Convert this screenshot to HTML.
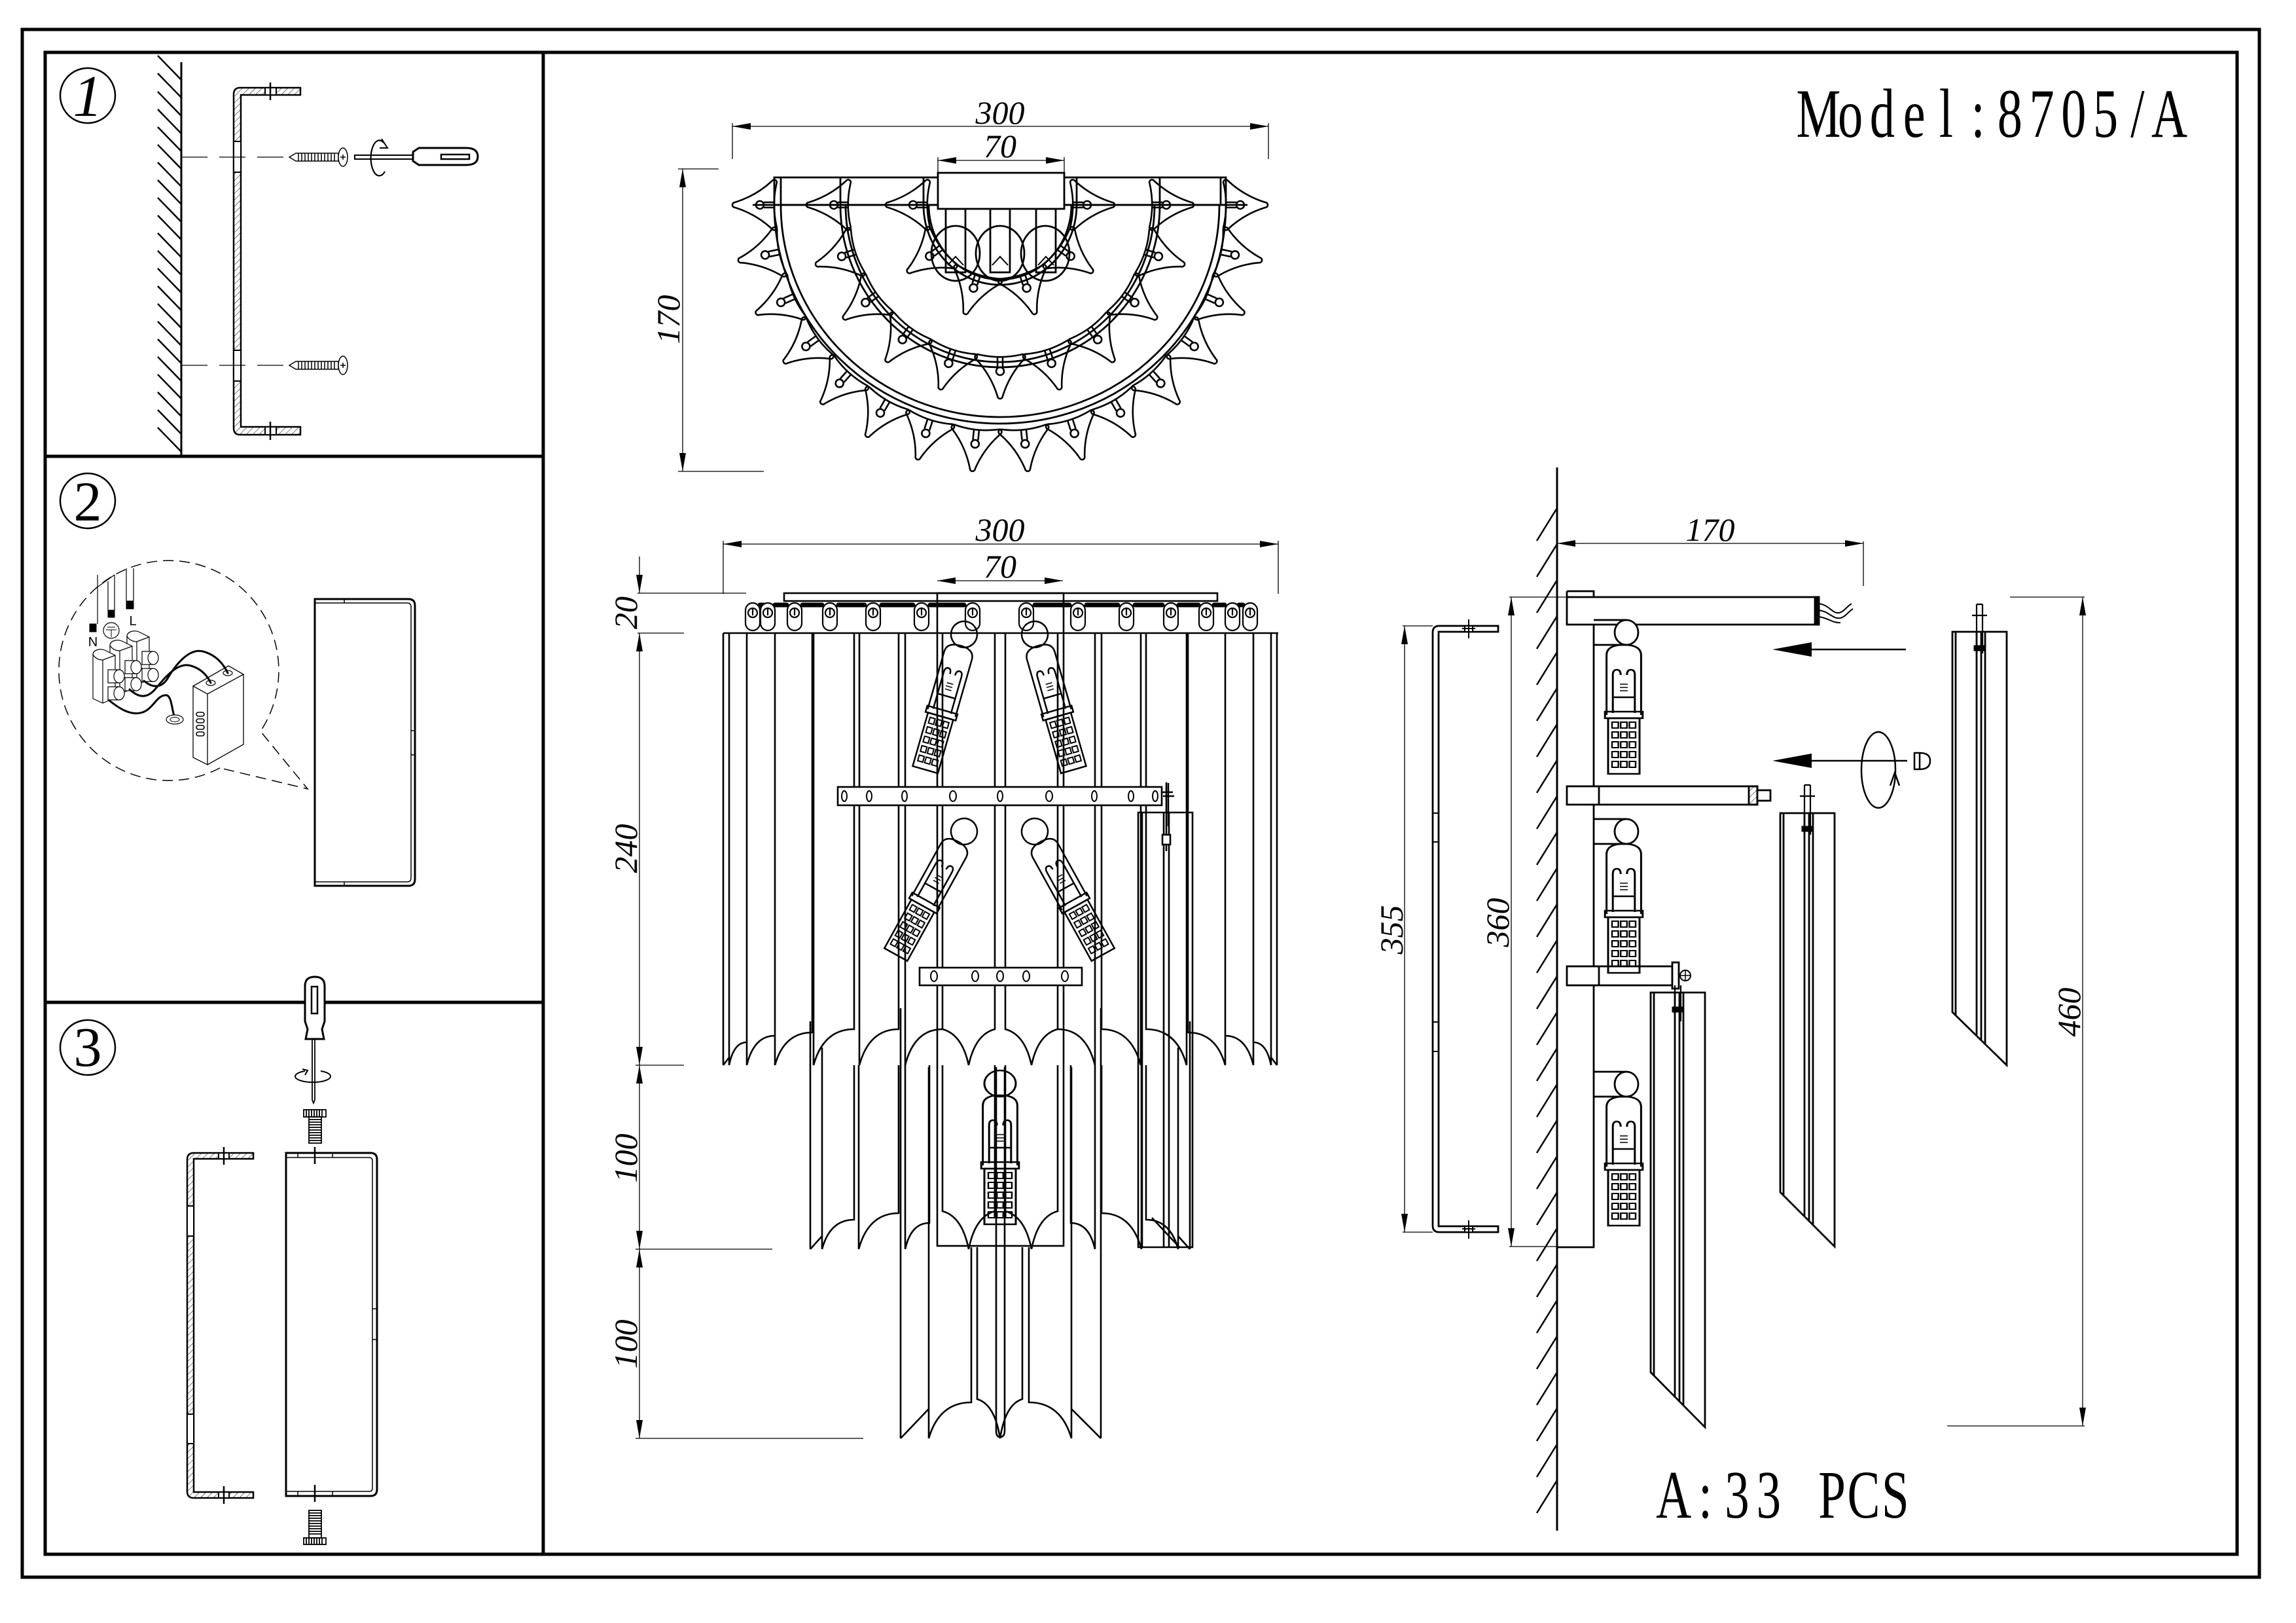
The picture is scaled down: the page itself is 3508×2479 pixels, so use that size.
<!DOCTYPE html>
<html><head><meta charset="utf-8"><style>
html,body{margin:0;padding:0;background:#fff}
svg{display:block}
.d{font-family:"Liberation Serif",serif;font-size:50px;font-style:italic}
.m{font-family:"Liberation Serif",serif}
</style></head><body>
<svg xmlns="http://www.w3.org/2000/svg" width="3508" height="2479" viewBox="0 0 3508 2479">
<defs>
<pattern id="hp" width="7" height="7" patternUnits="userSpaceOnUse" patternTransform="rotate(45)"><line x1="0" y1="0" x2="0" y2="7" stroke="#000" stroke-width="1"/></pattern>
<g id="cr" fill="none" stroke="#000" stroke-width="2.6" stroke-linejoin="round">
<path d="M 40,4 Q 8,13.9 -16.54,36.64 A 4 4 0 0 1 -23.46,32.64 Q -16,0 -23.46,-32.64 A 4 4 0 0 1 -16.54,-36.64 Q 8,-13.9 40,-4 A 4 4 0 0 1 40,4 Z"/>
<circle cx="2" cy="0" r="6"/><path d="M -4,-4 L -20,-4 M -4,4 L -20,4"/>
</g>
<g id="lpb" fill="none" stroke="#000" stroke-width="2.5">
<path d="M -22,125 L -22,34 Q -22,18 0,18 Q 22,18 22,34 L 22,125"/>
<path d="M -14,122 L -14,64 Q -14,56 -9,56 Q -4,56 -4,64 M 4,64 Q 4,56 9,56 Q 14,56 14,64 L 14,122 M -14,98 H 14"/>
<path d="M -5,78 H 5 M -5,83 H 5 M -5,88 H 5" stroke-width="1.5"/>
<rect x="-24" y="120" width="48" height="10"/>
<rect x="-20" y="130" width="40" height="85"/>
<g stroke-width="2">
<rect x="-15" y="136" width="8" height="9"/><rect x="-4" y="136" width="8" height="9"/><rect x="7" y="136" width="8" height="9"/>
<rect x="-15" y="151" width="8" height="9"/><rect x="-4" y="151" width="8" height="9"/><rect x="7" y="151" width="8" height="9"/>
<rect x="-15" y="166" width="8" height="9"/><rect x="-4" y="166" width="8" height="9"/><rect x="7" y="166" width="8" height="9"/>
<rect x="-15" y="181" width="8" height="9"/><rect x="-4" y="181" width="8" height="9"/><rect x="7" y="181" width="8" height="9"/>
<rect x="-15" y="196" width="8" height="9"/><rect x="-4" y="196" width="8" height="9"/><rect x="7" y="196" width="8" height="9"/>
</g>
</g>
<g id="lp"><circle cx="0" cy="0" r="20" fill="none" stroke="#000" stroke-width="2.5"/><use href="#lpb"/></g>
<g id="hk" fill="#fff" stroke="#000" stroke-width="2.2">
<rect x="-11" y="921" width="22" height="42" rx="11"/><circle cx="0" cy="936" r="7"/><path d="M 0,929 V 940" fill="none"/>
</g>
<g id="cyl" fill="#fff" stroke="#000" stroke-width="1.2">
<path d="M 165,1023 L 182,1023 A 8 10 0 0 1 182,1043 L 165,1043 Z"/><ellipse cx="182" cy="1033" rx="8" ry="10"/>
</g>
<g id="blk" fill="#fff" stroke="#000" stroke-width="1.2">
<path d="M 142,1000 C 142,993 152,990 160,993 L 176,1001 L 176,1066 L 157,1074 L 142,1067 Z"/>
<path d="M 157,1008 L 157,1074 M 142,1000 C 146,1006 152,1008 157,1008 L 176,1001" fill="none"/>
<use href="#cyl"/><use href="#cyl" transform="translate(0,26)"/>
</g>
</defs>

<!-- frames -->
<g fill="none" stroke="#000" stroke-width="5">
<rect x="34" y="45" width="3418" height="2364"/>
<rect x="69" y="80" width="3349" height="2294"/>
<path d="M 830,80 V 2374 M 69,697 H 830 M 69,1531 H 830"/>
</g>

<!-- circled numbers -->
<g fill="none" stroke="#000" stroke-width="2.5">
<circle cx="134" cy="146" r="42"/><circle cx="134" cy="765" r="42"/><circle cx="134" cy="1600" r="42"/>
</g>
<text x="134" y="177" class="m" font-size="90" font-style="italic" text-anchor="middle">1</text>
<text x="134" y="795" class="m" font-size="86" text-anchor="middle">2</text>
<text x="134" y="1628" class="m" font-size="86" text-anchor="middle">3</text>

<!-- PANEL 1 -->
<g stroke="#000" fill="none">
<path d="M 277,95 V 697" stroke-width="3"/>
<path stroke-width="2.5" d="M241,85L277,122M241,112L277,149M241,140L277,177M241,167L277,204M241,194L277,231M241,221L277,258M241,248L277,285M241,275L277,312M241,302L277,339M241,329L277,366M241,356L277,393M241,383L277,420M241,410L277,447M241,437L277,474M241,464L277,501M241,491L277,528M241,518L277,555M241,545L277,582M241,572L277,609M241,599L277,636M241,626L277,663M241,653L277,690"/>
<path d="M 459,134 L 367,134 Q 357,134 357,144 L 357,654 Q 357,664 367,664 L 459,664 L 459,652 L 368,652 L 368,145 L 459,145 Z" fill="url(#hp)" stroke-width="2.5"/>
<rect x="357" y="216" width="11" height="47" fill="#fff" stroke-width="2"/>
<rect x="357" y="535" width="11" height="47" fill="#fff" stroke-width="2"/>
<rect x="405" y="134" width="17" height="11" fill="#fff" stroke-width="2"/><path d="M 413,126 V 153" stroke-width="2.5"/>
<rect x="405" y="652" width="17" height="12" fill="#fff" stroke-width="2"/><path d="M 413,644 V 672" stroke-width="2.5"/>
<path d="M 277,240 H 442 M 277,558 H 442" stroke-width="1.2" stroke-dasharray="40 18"/>
<g stroke-width="1.5">
<path d="M 442,240 L 452,234 L 517,234 L 517,246 L 452,246 Z"/>
<path d="M456,234V246M461,234V246M466,234V246M471,234V246M476,234V246M481,234V246M486,234V246M491,234V246M496,234V246M501,234V246M506,234V246M511,234V246"/>
<ellipse cx="524" cy="240" rx="7" ry="14" fill="#fff"/><path d="M 520,240 H 528 M 524,236 V 244"/>
<path d="M 442,558 L 452,552 L 517,552 L 517,564 L 452,564 Z"/>
<path d="M456,552V564M461,552V564M466,552V564M471,552V564M476,552V564M481,552V564M486,552V564M491,552V564M496,552V564M501,552V564M506,552V564M511,552V564"/>
<ellipse cx="524" cy="558" rx="7" ry="14" fill="#fff"/><path d="M 520,558 H 528 M 524,554 V 562"/>
</g>
<rect x="542" y="237" width="92" height="6" stroke-width="2"/>
<path d="M 631,232 L 640,226 L 712,226 Q 730,226 730,239 Q 730,252 712,252 L 640,252 L 631,246 Z" fill="#fff" stroke-width="3"/>
<rect x="674" y="236" width="43" height="7" stroke-width="2.5"/>
<path d="M 586,218 A 13 27 0 1 0 588,262" stroke-width="2.2"/>
<path d="M 583,212 L 592,226 L 580,226" stroke-width="2"/>
</g>

<!-- PANEL 2 -->
<g stroke="#000" fill="none">
<path d="M 336,1173 A 168 168 0 1 1 398,1117 L 470,1205 L 336,1173" stroke-width="1.5" stroke-dasharray="16 9"/>
<path d="M 149,878 V 953 M 147,898 L 175,878" stroke-width="1.2"/>
<rect x="137" y="953" width="10" height="12" fill="#000"/>
<path d="M 165,888 V 932 M 175,878 V 932" stroke-width="1.2"/>
<rect x="165" y="932" width="10" height="11" fill="#000"/>
<path d="M 193,868 V 918 M 204,868 V 918" stroke-width="1.2"/>
<rect x="193" y="918" width="11" height="12" fill="#000"/>
<circle cx="170" cy="963" r="12" stroke-width="1.2"/>
<path d="M 164,958 H 176 M 162,962 H 178 M 170,962 V 973" stroke-width="1"/>
<g transform="translate(52,-28)"><use href="#blk"/></g>
<g transform="translate(26,-14)"><use href="#blk"/></g>
<use href="#blk"/>
<path d="M 295,1048 L 349,1017 L 372,1030 L 317,1060 Z M 295,1048 L 295,1157 L 317,1168 L 317,1060 M 317,1168 L 372,1137 L 372,1030" fill="#fff" stroke-width="1.3"/>
<ellipse cx="322" cy="1043" rx="7" ry="4" stroke-width="1.2"/><ellipse cx="348" cy="1028" rx="7" ry="4" stroke-width="1.2"/>
<g stroke-width="1.6"><rect x="300" y="1088" width="12" height="6" rx="3"/><rect x="300" y="1098" width="12" height="6" rx="3"/><rect x="300" y="1108" width="12" height="6" rx="3"/><rect x="300" y="1118" width="12" height="6" rx="3"/></g>
<g stroke-width="3" stroke-linecap="round">
<path d="M 220,1040 C 232,1050 245,1052 255,1038 C 270,1012 290,990 310,995 C 330,1000 342,1015 348,1028"/>
<path d="M 198,1053 C 210,1064 222,1068 235,1055 C 250,1038 270,1010 292,1017 C 310,1022 318,1035 322,1043"/>
<path d="M 167,1070 C 182,1082 200,1094 218,1088 C 235,1082 240,1060 255,1062 C 262,1064 263,1085 266,1093"/>
</g>
<ellipse cx="267" cy="1099" rx="13" ry="7" stroke-width="1.2" fill="#fff"/><ellipse cx="267" cy="1099" rx="7" ry="3.5" stroke-width="1"/>
<path d="M 481,915 L 624,915 Q 634,915 634,925 L 634,1343 Q 634,1353 624,1353 L 481,1353 Z" stroke-width="3"/>
<path d="M 481,921 L 622,921 Q 628,921 628,927 L 628,1341 Q 628,1347 622,1347 L 481,1347 M 526,915 V 921 M 526,1347 V 1353 M 628,1116 H 634 M 628,1153 H 634" stroke-width="1.5"/>
</g>
<text x="142" y="987" font-size="20" text-anchor="middle" font-family="Liberation Sans, sans-serif">N</text>
<text x="203" y="955" font-size="20" text-anchor="middle" font-family="Liberation Sans, sans-serif">L</text>

<!-- PANEL 3 -->
<g stroke="#000" fill="none">
<path d="M 387,1761 L 296,1761 Q 286,1761 286,1771 L 286,2278 Q 286,2288 296,2288 L 387,2288 L 387,2279 L 296,2279 L 296,1770 L 387,1770 Z" fill="url(#hp)" stroke-width="2.5"/>
<rect x="286" y="1842" width="10" height="46" fill="#fff" stroke-width="2"/>
<rect x="286" y="2160" width="10" height="45" fill="#fff" stroke-width="2"/>
<rect x="334" y="1761" width="16" height="9" fill="#fff" stroke-width="2"/><path d="M 342,1752 V 1779" stroke-width="2.5"/>
<rect x="334" y="2279" width="16" height="9" fill="#fff" stroke-width="2"/><path d="M 342,2270 V 2297" stroke-width="2.5"/>
<path d="M 437,1761 L 566,1761 Q 576,1761 576,1771 L 576,2275 Q 576,2285 566,2285 L 437,2285 Z" stroke-width="3"/>
<path d="M 437,1768 L 564,1768 Q 569,1768 569,1773 L 569,2273 Q 569,2278 564,2278 L 437,2278 M 455,1761 V 1768 M 508,1761 V 1768 M 455,2278 V 2285 M 508,2278 V 2285 M 569,1999 H 576 M 569,2046 H 576" stroke-width="1.5"/>
<path d="M 481,1752 V 1778 M 481,2268 V 2294" stroke-width="2.5"/>
<g stroke-width="1.8">
<rect x="464" y="1695" width="34" height="11"/><path d="M468,1695V1706M472,1695V1706M476,1695V1706M480,1695V1706M484,1695V1706M488,1695V1706M492,1695V1706"/>
<rect x="472" y="1706" width="19" height="40"/><path d="M472,1710H491M472,1714H491M472,1718H491M472,1722H491M472,1726H491M472,1730H491M472,1734H491M472,1738H491M472,1742H491"/>
<rect x="472" y="2307" width="19" height="42"/><path d="M472,2311H491M472,2315H491M472,2319H491M472,2323H491M472,2327H491M472,2331H491M472,2335H491M472,2339H491M472,2343H491"/>
<rect x="464" y="2349" width="34" height="10"/><path d="M468,2349V2359M472,2349V2359M476,2349V2359M480,2349V2359M484,2349V2359M488,2349V2359M492,2349V2359"/>
</g>
<path d="M 467,1587 L 470,1572 L 466,1560 L 466,1506 Q 466,1492 481,1492 Q 496,1492 496,1506 L 496,1560 L 492,1572 L 495,1587 Z" fill="#fff" stroke-width="3"/>
<rect x="476" y="1507" width="9" height="41" stroke-width="2.5"/>
<path d="M 477,1587 V 1680 L 479,1685 L 481,1680 V 1587" stroke-width="1.8"/>
<path d="M 466,1636 A 27 9 0 1 0 490,1636" stroke-width="2"/>
<path d="M 462,1633 L 470,1635 L 466,1642" stroke-width="2"/>
</g>

<!-- TOP VIEW -->
<g stroke="#000" fill="none">
<g stroke-width="1.3">
<path d="M 1119,193 H 1938 M 1119,188 V 243 M 1938,188 V 243 M 1433,245 H 1626 M 1433,240 V 264 M 1626,240 V 264"/>
<path d="M 1043,258 V 720 M 1036,258 H 1098 M 1036,720 H 1167"/>
</g>
<g fill="#000" stroke="none">
<path d="M1119,193 L1147,188 L1147,198Z M1938,193 L1910,188 L1910,198Z M1433,245 L1461,240 L1461,250Z M1626,245 L1598,240 L1598,250Z M1043,258 L1038,286 L1048,286Z M1043,720 L1038,692 L1048,692Z"/>
</g>
<g stroke-width="2.8">
<rect x="1183" y="271" width="690" height="42"/>
<path d="M 1193,271 V 313 M 1865,271 V 313 M 1150,313 H 1906"/>
<path d="M 1183,313 A 345 334 0 0 0 1873,313"/>
<path d="M 1193,313 A 335 324 0 0 0 1863,313"/>
<path d="M 1284,271 V 313 A 244 248 0 0 0 1772,313 V 271"/>
<path d="M 1292,313 A 236 240 0 0 0 1764,313"/>
<path d="M 1411,271 V 313 A 117 122 0 0 0 1645,313 V 271"/>
<path d="M 1419,313 A 109 114 0 0 0 1637,313"/>
<ellipse cx="1460" cy="387" rx="37" ry="42"/><ellipse cx="1528" cy="387" rx="37" ry="42"/><ellipse cx="1597" cy="387" rx="37" ry="42"/>
<rect x="1445" y="319" width="30" height="97"/><rect x="1513" y="319" width="30" height="97"/><rect x="1583" y="319" width="30" height="97"/>
<path d="M 1448,405 L 1460,392 L 1472,405 M 1516,405 L 1528,392 L 1540,405 M 1586,405 L 1598,392 L 1610,405" stroke-width="2"/>
<rect x="1433" y="264" width="193" height="55" fill="#fff"/>
</g>
<use href="#cr" transform="translate(1893,313) rotate(0)"/>
<use href="#cr" transform="translate(1885,389) rotate(12)"/>
<use href="#cr" transform="translate(1861,461) rotate(24)"/>
<use href="#cr" transform="translate(1823,528) rotate(36)"/>
<use href="#cr" transform="translate(1772,584) rotate(48)"/>
<use href="#cr" transform="translate(1711,629) rotate(60)"/>
<use href="#cr" transform="translate(1641,660) rotate(72)"/>
<use href="#cr" transform="translate(1566,676) rotate(84)"/>
<use href="#cr" transform="translate(1490,676) rotate(96)"/>
<use href="#cr" transform="translate(1415,660) rotate(108)"/>
<use href="#cr" transform="translate(1346,629) rotate(120)"/>
<use href="#cr" transform="translate(1284,584) rotate(132)"/>
<use href="#cr" transform="translate(1233,528) rotate(144)"/>
<use href="#cr" transform="translate(1195,461) rotate(156)"/>
<use href="#cr" transform="translate(1171,389) rotate(168)"/>
<use href="#cr" transform="translate(1163,313) rotate(180)"/>
<use href="#cr" transform="translate(1780,313) rotate(0)"/>
<use href="#cr" transform="translate(1768,391) rotate(18)"/>
<use href="#cr" transform="translate(1732,461) rotate(36)"/>
<use href="#cr" transform="translate(1676,517) rotate(54)"/>
<use href="#cr" transform="translate(1606,553) rotate(72)"/>
<use href="#cr" transform="translate(1528,565) rotate(90)"/>
<use href="#cr" transform="translate(1450,553) rotate(108)"/>
<use href="#cr" transform="translate(1380,517) rotate(126)"/>
<use href="#cr" transform="translate(1324,461) rotate(144)"/>
<use href="#cr" transform="translate(1288,391) rotate(162)"/>
<use href="#cr" transform="translate(1276,313) rotate(180)"/>
<use href="#cr" transform="translate(1659,313) rotate(0)"/>
<use href="#cr" transform="translate(1634,390) rotate(36)"/>
<use href="#cr" transform="translate(1568,438) rotate(72)"/>
<use href="#cr" transform="translate(1488,438) rotate(108)"/>
<use href="#cr" transform="translate(1422,390) rotate(144)"/>
<use href="#cr" transform="translate(1397,313) rotate(180)"/>
</g>
<text x="1528" y="189" class="d" text-anchor="middle">300</text>
<text x="1528" y="240" class="d" text-anchor="middle">70</text>
<text transform="translate(1038,488) rotate(-90)" class="d" text-anchor="middle">170</text>

<!-- FRONT VIEW -->
<g stroke="#000" fill="none">
<g stroke-width="1.3">
<path d="M 1105,831 H 1953 M 1105,826 V 907 M 1953,826 V 907 M 1432,887 H 1624"/>
<path d="M 977,850 V 906 M 977,967 V 2197 M 974,906 H 1140 M 974,967 H 1045 M 971,1627 H 1045 M 971,1908 H 1180 M 971,2197 H 1319"/>
</g>
<g fill="#000" stroke="none">
<path d="M1105,831 L1133,826 L1133,836Z M1953,831 L1925,826 L1925,836Z M1432,887 L1460,882 L1460,892Z M1624,887 L1596,882 L1596,892Z"/>
<path d="M977,906 L972,878 L982,878Z M977,967 L972,995 L982,995Z M977,1627 L972,1599 L982,1599Z M977,1627 L972,1655 L982,1655Z M977,1908 L972,1880 L982,1880Z M977,1908 L972,1936 L982,1936Z M977,2197 L972,2169 L982,2169Z"/>
</g>
<g stroke-width="2.6">
<rect x="1198" y="906" width="662" height="12"/>
<rect x="1432" y="906" width="193" height="997"/>
<path d="M 1105,967 H 1953"/>
<path d="M1161,924H1167M1184,924H1202M1226,924H1256M1281,924H1321M1347,924H1395M1421,924H1473M1581,924H1634M1660,924H1708M1734,924H1776M1801,924H1831M1855,924H1871M1893,924H1899" stroke-width="7" stroke-linecap="round"/>
<!-- tier 1 -->
<path d="M1105,967V1627 M1114,967V1615 L1105,1627 M1114,967V1627 M1141,967V1592 Q1121,1592 1114,1627 M1141,967V1627 M1184,967V1582 Q1152,1582 1141,1627 M1184,967V1627 M1241,967V1577 Q1198,1577 1184,1627 M1243,967V1627 M1305,967V1572 Q1258,1572 1243,1627 M1313,967V1627 M1373,967V1572 Q1328,1572 1313,1627 M1383,967V1627 M1440,967V1572 Q1397,1572 1383,1627"/>
<path d="M1440,1572 Q1470,1580 1480,1627 M1520,967V1572 Q1490,1580 1480,1627 M1536,967V1572 Q1566,1580 1576,1627 M1616,967V1572 Q1586,1580 1576,1627"/>
<path d="M1673,967V1627 M1616,1572 Q1659,1572 1673,1627 M1743,967V1627 M1683,967V1572 Q1728,1572 1743,1627 M1813,967V1627 M1751,967V1572 Q1798,1572 1813,1627 M1872,967V1627 M1815,967V1577 Q1858,1577 1872,1627 M1915,967V1627 M1872,1582 Q1904,1582 1915,1627 M1942,967V1627 M1915,1592 Q1935,1592 1942,1627 M1951,967V1627 M1942,1615 L1951,1627"/>
<!-- tier 2 -->
<path d="M1238,1560V1908 M1256,1600V1888 L1238,1908 M1256,1888V1908 M1305,1627V1863 Q1268,1863 1256,1908 M1312,1627V1908 M1373,1627V1853 Q1327,1853 1312,1908 M1383,1627V1908 M1420,1627V1868 Q1392,1868 1383,1908"/>
<path d="M1440,1627V1850 Q1470,1858 1480,1908 M1520,1627V1850 Q1490,1858 1480,1908 M1536,1627V1850 Q1566,1858 1576,1908 M1616,1627V1850 Q1586,1858 1576,1908"/>
<path d="M1673,1627V1908 M1636,1627V1868 Q1664,1868 1673,1908 M1744,1627V1908 M1683,1627V1853 Q1729,1853 1744,1908 M1800,1600V1908 M1751,1627V1863 Q1788,1863 1800,1908 M1818,1560V1908 M1800,1888 L1818,1908"/>
<!-- tier 3 -->
<path d="M1376,1540V2197 M1419,1630V2197 M1419,2152 L1376,2197 M1484,1905V2142 Q1435,2142 1419,2197 M1493,1905V2137 Q1520,2145 1528,2197 M1562,1905V2137 Q1536,2145 1528,2197 M1682,1540V2197 M1637,1630V2197 M1637,2152 L1682,2197 M1572,1905V2142 Q1621,2142 1637,2197"/>
<path d="M1522,1630V2185 Q1522,2195 1528,2195 Q1535,2195 1535,2185 V1630"/>
<!-- side crystal -->
<path d="M1739,1241 H1822 V1905 H1739 Z M1745,1241 V1905 M1778,1241 V1905 M1786,1241 V1905 M1760,1860 L1802,1905"/>
<path d="M1782,1195 V1300 M1772,1210 H1792"/>
<rect x="1776" y="1275" width="12" height="15" fill="#fff"/>
<!-- bars -->
<rect x="1280" y="1202" width="495" height="28" fill="#fff"/>
<rect x="1405" y="1478" width="248" height="27" fill="#fff"/>
</g>
<g stroke-width="2">
<ellipse cx="1290" cy="1216" rx="4" ry="8"/><ellipse cx="1328" cy="1216" rx="4" ry="8"/><ellipse cx="1382" cy="1216" rx="4" ry="8"/><ellipse cx="1456" cy="1216" rx="5" ry="8"/><ellipse cx="1528" cy="1216" rx="4" ry="8"/><ellipse cx="1603" cy="1216" rx="5" ry="8"/><ellipse cx="1672" cy="1216" rx="4" ry="8"/><ellipse cx="1728" cy="1216" rx="4" ry="8"/><ellipse cx="1765" cy="1216" rx="4" ry="8"/>
<ellipse cx="1427" cy="1491" rx="5" ry="8"/><ellipse cx="1490" cy="1491" rx="5" ry="8"/><ellipse cx="1528" cy="1491" rx="5" ry="8"/><ellipse cx="1568" cy="1491" rx="5" ry="8"/><ellipse cx="1627" cy="1491" rx="5" ry="8"/>
</g>
<path d="M1785,1196 V1262 M1777,1216 H1794" stroke-width="2.5"/>
</g>
<use href="#hk" transform="translate(1150,0)"/><use href="#hk" transform="translate(1173,0)"/><use href="#hk" transform="translate(1214,0)"/><use href="#hk" transform="translate(1268,0)"/><use href="#hk" transform="translate(1334,0)"/><use href="#hk" transform="translate(1408,0)"/><use href="#hk" transform="translate(1486,0)"/><use href="#hk" transform="translate(1568,0)"/><use href="#hk" transform="translate(1647,0)"/><use href="#hk" transform="translate(1721,0)"/><use href="#hk" transform="translate(1789,0)"/><use href="#hk" transform="translate(1843,0)"/><use href="#hk" transform="translate(1883,0)"/><use href="#hk" transform="translate(1910,0)"/>
<use href="#lp" transform="translate(1473,969) rotate(16)"/>
<use href="#lp" transform="translate(1581,969) rotate(-16)"/>
<use href="#lp" transform="translate(1473,1270) rotate(29)"/>
<use href="#lp" transform="translate(1581,1270) rotate(-29)"/>
<use href="#lp" transform="translate(1528,1655) scale(1.2,1)"/>
<text x="1528" y="826" class="d" text-anchor="middle">300</text>
<text x="1528" y="882" class="d" text-anchor="middle">70</text>
<text transform="translate(973,936) rotate(-90)" class="d" text-anchor="middle">20</text>
<text transform="translate(973,1296) rotate(-90)" class="d" text-anchor="middle">240</text>
<text transform="translate(973,1769) rotate(-90)" class="d" text-anchor="middle">100</text>
<text transform="translate(973,2053) rotate(-90)" class="d" text-anchor="middle">100</text>

<!-- SIDE VIEW -->
<g stroke="#000" fill="none">
<path d="M 2379,714 V 2338" stroke-width="3"/>
<path stroke-width="2.5" d="M2348,826L2379,776M2348,881L2379,831M2348,936L2379,886M2348,991L2379,941M2348,1046L2379,996M2348,1101L2379,1051M2348,1156L2379,1106M2348,1211L2379,1161M2348,1266L2379,1216M2348,1321L2379,1271M2348,1376L2379,1326M2348,1431L2379,1381M2348,1486L2379,1436M2348,1541L2379,1491M2348,1596L2379,1546M2348,1651L2379,1601M2348,1706L2379,1656M2348,1761L2379,1711M2348,1816L2379,1766M2348,1871L2379,1821M2348,1926L2379,1876M2348,1981L2379,1931M2348,2036L2379,1986M2348,2091L2379,2041M2348,2146L2379,2096M2348,2201L2379,2151M2348,2256L2379,2206M2348,2311L2379,2261"/>
<g stroke-width="1.3">
<path d="M 2379,830 H 2847 M 2847,827 V 895"/>
<path d="M 2309,912 V 1904 M 2306,912 H 2394 M 2306,1904 H 2379"/>
<path d="M 2146,956 V 1882 M 2143,956 H 2189 M 2143,1882 H 2189"/>
<path d="M 3182,912 V 2178 M 3071,912 H 3185 M 2975,2178 H 3185"/>
</g>
<g fill="#000" stroke="none">
<path d="M2379,830 L2407,825 L2407,835Z M2847,830 L2819,825 L2819,835Z M2309,912 L2304,940 L2314,940Z M2309,1904 L2304,1876 L2314,1876Z M2146,956 L2141,984 L2151,984Z M2146,1882 L2141,1854 L2151,1854Z M3182,912 L3177,940 L3187,940Z M3182,2178 L3177,2150 L3187,2150Z"/>
<path d="M2708,992 L2768,981 L2768,1003Z M2708,1162 L2768,1151 L2768,1173Z"/>
</g>
<path d="M 2768,992 H 2912 M 2768,1162 H 2914" stroke-width="2.5"/>
<ellipse cx="2870" cy="1176" rx="26" ry="58" stroke-width="2.5"/>
<path d="M 2888,1200 L 2895,1180 L 2902,1200" stroke-width="2.5"/>
<path d="M 2925,1150 L 2925,1175 L 2933,1175 Q 2949,1175 2949,1162 Q 2949,1150 2933,1150 Z M 2933,1150 V 1175" stroke-width="2.5"/>
<g stroke-width="2.8">
<path d="M 2379,1905 H 2435 V 912 M 2394,903 H 2435 V 912 M 2394,903 V 912"/>
<rect x="2394" y="912" width="385" height="42" fill="#fff"/>
<rect x="2773" y="912" width="6" height="42" fill="#000"/>
<path d="M 2779,922 C 2795,924 2800,938 2810,936 C 2818,934 2822,926 2829,922 M 2779,932 C 2795,934 2800,946 2812,944 C 2820,942 2824,934 2831,930 M 2779,942 C 2794,944 2800,952 2812,951" stroke-width="2"/>
<rect x="2394" y="1201" width="291" height="28" fill="#fff"/>
<path d="M 2443,1201 V 1229"/>
<rect x="2672" y="1201" width="13" height="28" fill="url(#hp)"/>
<rect x="2685" y="1207" width="20" height="16" fill="#fff"/>
<rect x="2394" y="1476" width="161" height="29" fill="#fff"/>
<path d="M 2443,1476 V 1505"/>
<rect x="2555" y="1470" width="10" height="40" fill="#fff"/>
<circle cx="2575" cy="1490" r="8" stroke-width="2"/><path d="M 2567,1490 H 2583 M 2575,1482 V 1498" stroke-width="1.5"/>
<!-- holders -->
<path d="M 2435,947 H 2485 M 2435,985 H 2485 M 2435,1251 H 2485 M 2435,1289 H 2485 M 2435,1637 H 2485 M 2435,1675 H 2485"/>
<ellipse cx="2485" cy="966" rx="18" ry="19" fill="#fff"/>
<ellipse cx="2485" cy="1270" rx="18" ry="19" fill="#fff"/>
<ellipse cx="2485" cy="1656" rx="18" ry="19" fill="#fff"/>
<!-- left bracket -->
<path d="M 2289,956 L 2199,956 Q 2189,956 2189,966 L 2189,1872 Q 2189,1882 2199,1882 L 2289,1882 L 2289,1873 L 2198,1873 L 2198,965 L 2289,965 Z"/>
<path d="M 2189,1242 H 2198 M 2189,1286 H 2198 M 2189,1561 H 2198 M 2189,1606 H 2198" stroke-width="2"/>
<rect x="2238" y="956" width="12" height="9" fill="#fff" stroke-width="2"/><path d="M 2244,946 V 975 M 2234,960 H 2254" stroke-width="2"/>
<rect x="2238" y="1873" width="12" height="9" fill="#fff" stroke-width="2"/><path d="M 2244,1864 V 1892 M 2234,1877 H 2254" stroke-width="2"/>
<!-- crystals -->
<path d="M 2720,1242 H 2803 V 1904 L 2720,1821 Z M 2725,1242 V 1826 M 2757,1242 V 1858 M 2764,1242 V 1865 M 2770,1242 V 1870"/>
<path d="M 2757,1199 V 1275 M 2766,1199 V 1275 M 2757,1199 H 2766 M 2750,1216 H 2773" stroke-width="2.2"/>
<rect x="2753" y="1262" width="17" height="8" fill="#000" stroke-width="1"/>
<path d="M 2983,965 H 3066 V 1627 L 2983,1546 Z M 2988,965 V 1551 M 3020,965 V 1583 M 3027,965 V 1590 M 3033,965 V 1596"/>
<path d="M 3020,923 V 998 M 3029,923 V 998 M 3020,923 H 3029 M 3013,940 H 3036" stroke-width="2.2"/>
<rect x="3016" y="986" width="17" height="8" fill="#000" stroke-width="1"/>
<path d="M 2522,1516 H 2605 V 2180 L 2522,2096 Z M 2527,1516 V 2101 M 2559,1516 V 2133 M 2566,1516 V 2140 M 2572,1516 V 2146"/>
<path d="M 2559,1505 V 1560 M 2568,1505 V 1560" stroke-width="2.2"/>
<rect x="2555" y="1538" width="17" height="8" fill="#000" stroke-width="1"/>
</g>
</g>
<use href="#lpb" transform="translate(2481,967) scale(1.2,1)"/>
<use href="#lpb" transform="translate(2481,1271) scale(1.2,1)"/>
<use href="#lpb" transform="translate(2481,1657) scale(1.2,1)"/>
<text x="2613" y="826" class="d" text-anchor="middle">170</text>
<text transform="translate(2143,1420) rotate(-90)" class="d" text-anchor="middle">355</text>
<text transform="translate(2305,1409) rotate(-90)" class="d" text-anchor="middle">360</text>
<text transform="translate(3178,1546) rotate(-90)" class="d" text-anchor="middle">460</text>

<text transform="translate(2754,209) scale(0.72,1)" class="m" font-size="106" text-anchor="middle"><tspan x="33.9">M</tspan><tspan x="101.6">o</tspan><tspan x="169.3">d</tspan><tspan x="237.0">e</tspan><tspan x="304.7">l</tspan><tspan x="372.4">:</tspan><tspan x="440.1">8</tspan><tspan x="507.8">7</tspan><tspan x="575.5">0</tspan><tspan x="643.2">5</tspan><tspan x="710.9">/</tspan><tspan x="778.6">A</tspan></text>
<text transform="translate(2533,2318) scale(0.72,1)" class="m" font-size="104" text-anchor="middle"><tspan x="33.6">A</tspan><tspan x="100.8">:</tspan><tspan x="168.0">3</tspan><tspan x="235.2">3</tspan><tspan x="369.6">P</tspan><tspan x="436.8">C</tspan><tspan x="504.0">S</tspan></text>
</svg>
</body></html>
